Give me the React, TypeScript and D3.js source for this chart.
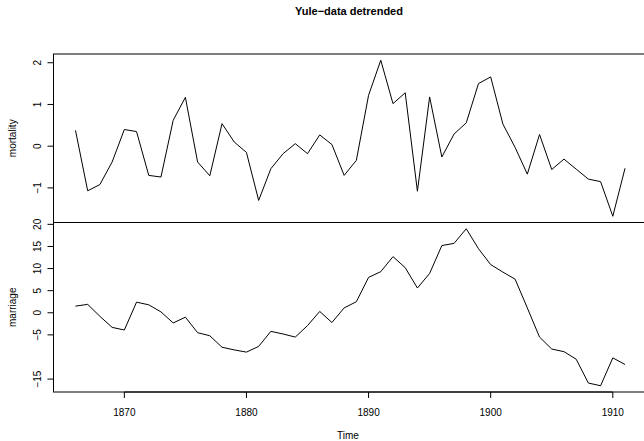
import React from "react";
import * as d3 from "d3";

const years = d3.range(1866, 1912);
const mortality = [
  0.38, -1.07, -0.92, -0.38, 0.40, 0.35, -0.70, -0.74, 0.62, 1.17,
  -0.38, -0.71, 0.54, 0.10, -0.15, -1.30, -0.54, -0.18, 0.06, -0.18,
  0.27, 0.04, -0.70, -0.34, 1.22, 2.06, 1.02, 1.28, -1.08, 1.18,
  -0.26, 0.29, 0.56, 1.50, 1.66, 0.53, -0.03, -0.67, 0.28, -0.56,
  -0.31, -0.55, -0.79, -0.85, -1.68, -0.53,
];
const marriage = [
  1.5, 1.9, -0.8, -3.3, -3.9, 2.4, 1.8, 0.2, -2.3, -1.0,
  -4.5, -5.2, -7.8, -8.4, -8.9, -7.6, -4.2, -4.8, -5.5, -2.9,
  0.3, -2.2, 1.1, 2.5, 8.0, 9.3, 12.7, 10.2, 5.6, 8.9,
  15.2, 15.7, 19.0, 14.5, 10.9, 9.2, 7.6, 1.1, -5.5, -8.2,
  -8.8, -10.5, -15.9, -16.5, -10.2, -11.7,
];
const xTicks = [1870, 1880, 1890, 1900, 1910];
const mortTicks = [2, 1, 0, -1];
const marrTicks = [20, 15, 10, 5, 0, -5, -15];

const W = 644;
const H = 441;
const left = 53.5;
const right = 647;
const font = "'Liberation Sans', Arial, Helvetica, sans-serif";

// R-style 4% axis padding
const pad = (lo: number, hi: number): [number, number] => {
  const d = (hi - lo) * 0.04;
  return [lo - d, hi + d];
};

const fmt = (v: number) => (v < 0 ? "\u2212" + Math.abs(v) : String(v));

function Panel({ values, ticks, label, top, bottom }: { values: number[]; ticks: number[]; label: string; top: number; bottom: number }) {
  const x = d3.scaleLinear().domain(pad(1866, 1911)).range([left, right]);
  const y = d3.scaleLinear().domain(pad(d3.min(values)!, d3.max(values)!)).range([bottom, top]);
  const line = d3.line<number>().x((_, i) => x(years[i])).y((d) => y(d));
  return (
    <g>
      <rect x={left} y={top} width={right - left} height={bottom - top} fill="none" stroke="#000" strokeWidth={1} />
      <path d={line(values) ?? ""} fill="none" stroke="#000" strokeWidth={1} />
      <line x1={left} x2={left} y1={y(ticks[ticks.length - 1])} y2={y(ticks[0])} stroke="#000" />
      {ticks.map((t) => (
        <g key={t} transform={`translate(${left},${y(t)})`}>
          <line x1={-6} x2={0} stroke="#000" />
          <text transform="translate(-13,0) rotate(-90)" textAnchor="middle" fontSize={10} fontFamily={font} fill="#000">
            {fmt(t)}
          </text>
        </g>
      ))}
      <text transform={`translate(16,${(top + bottom) / 2}) rotate(-90)`} textAnchor="middle" fontSize={10} fontFamily={font} fill="#000">
        {label}
      </text>
    </g>
  );
}

export default function App() {
  const x = d3.scaleLinear().domain(pad(1866, 1911)).range([left, right]);
  const bottom = 392;
  return (
    <svg width={W} height={H} style={{ position: "absolute", left: 0, top: 0, background: "#fff" }}>
      <rect width={W} height={H} fill="#fff" />
      <text x={349} y={15} textAnchor="middle" fontSize={11} fontWeight="bold" fontFamily={font}>
        Yule{"\u2212"}data detrended
      </text>
      <Panel values={mortality} ticks={mortTicks} label="mortality" top={54} bottom={222.5} />
      <Panel values={marriage} ticks={marrTicks} label="marriage" top={222.5} bottom={bottom} />
      <line x1={x(1870)} x2={x(1910)} y1={bottom} y2={bottom} stroke="#000" />
      {xTicks.map((t) => (
        <g key={t} transform={`translate(${x(t)},${bottom})`}>
          <line y1={0} y2={6} stroke="#000" />
          <text y={23.5} textAnchor="middle" fontSize={10} fontFamily={font}>
            {t}
          </text>
        </g>
      ))}
      <text x={348} y={439} textAnchor="middle" fontSize={10} fontFamily={font}>
        Time
      </text>
    </svg>
  );
}
